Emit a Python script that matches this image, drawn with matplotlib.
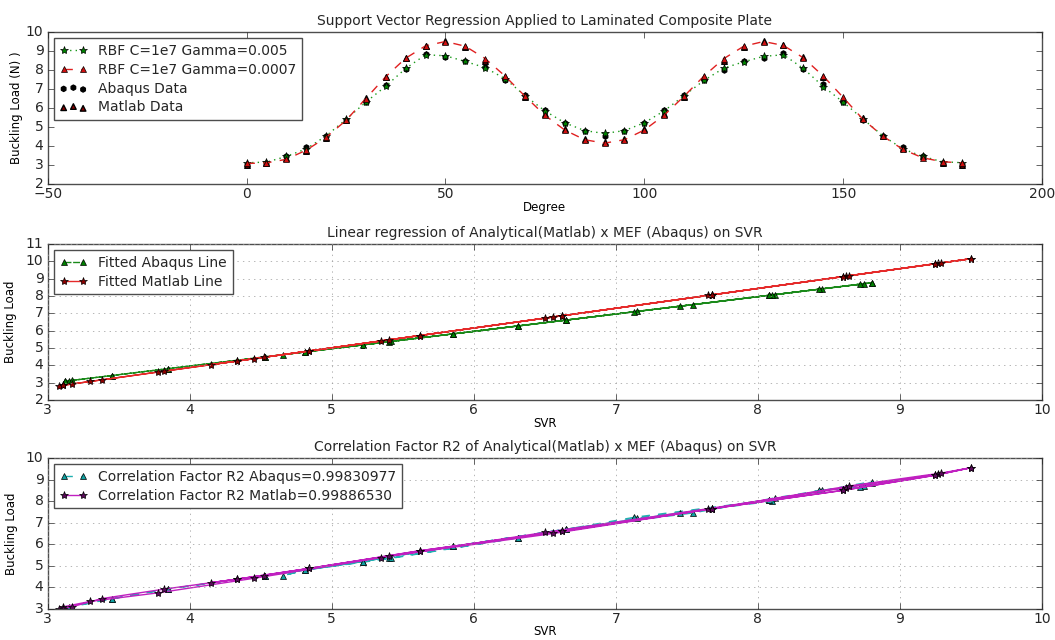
import matplotlib
matplotlib.use("Agg")
import matplotlib.pyplot as plt

# ---------------- data ----------------
degrees = [0, 5, 10, 15, 20, 25, 30, 35, 40, 45, 50, 55, 60, 65, 70, 75, 80, 85, 90,
           95, 100, 105, 110, 115, 120, 125, 130, 135, 140, 145, 150, 155, 160, 165, 170, 175, 180]

svr_abaqus = [3.12, 3.15, 3.45, 3.85, 4.53, 5.40, 6.31, 7.15, 8.08, 8.80, 8.75, 8.45, 8.12, 7.54, 6.65,
              5.85, 5.22, 4.81, 4.66, 4.81, 5.22, 5.85, 6.65, 7.45, 8.10, 8.43, 8.72, 8.80, 8.08,
              7.13, 6.31, 5.42, 4.53, 3.85, 3.45, 3.17, 3.12]

svr_matlab = [3.08, 3.11, 3.30, 3.78, 4.45, 5.35, 6.50, 7.65, 8.62, 9.27, 9.50, 9.25, 8.60, 7.68, 6.62,
              5.62, 4.84, 4.33, 4.15, 4.33, 4.84, 5.62, 6.62, 7.68, 8.60, 9.25, 9.50, 9.29, 8.64,
              7.68, 6.56, 5.40, 4.52, 3.82, 3.38, 3.17, 3.11]

abaqus_data = [3.02, 3.10, 3.47, 3.93, 4.55, 5.35, 6.30, 7.20, 8.05, 8.85, 8.70, 8.50, 8.15, 7.45, 6.70,
               5.90, 5.20, 4.80, 4.55, 4.80, 5.20, 5.90, 6.70, 7.45, 8.00, 8.50, 8.65, 8.90, 8.05,
               7.25, 6.30, 5.35, 4.55, 3.93, 3.47, 3.10, 3.02]

matlab_data = [3.02, 3.10, 3.35, 3.75, 4.42, 5.38, 6.55, 7.65, 8.62, 9.25, 9.55, 9.20, 8.50, 7.65, 6.60,
               5.70, 4.88, 4.38, 4.22, 4.38, 4.88, 5.70, 6.60, 7.65, 8.50, 9.20, 9.55, 9.30, 8.70,
               7.65, 6.50, 5.45, 4.55, 3.92, 3.48, 3.10, 3.02]

fit_abaqus = [3.08, 3.11, 3.41, 3.81, 4.49, 5.36, 6.27, 7.11, 8.04, 8.76, 8.71, 8.41, 8.08, 7.50, 6.61,
              5.81, 5.18, 4.77, 4.62, 4.77, 5.18, 5.81, 6.61, 7.41, 8.06, 8.39, 8.68, 8.76, 8.04,
              7.09, 6.27, 5.38, 4.49, 3.81, 3.41, 3.13, 3.08]

fit_matlab = [2.82, 2.85, 3.07, 3.62, 4.38, 5.41, 6.72, 8.03, 9.14, 9.88, 10.15, 9.86, 9.12, 8.07, 6.86,
              5.72, 4.83, 4.24, 4.04, 4.24, 4.83, 5.72, 6.86, 8.07, 9.12, 9.86, 10.15, 9.91, 9.17,
              8.07, 6.79, 5.47, 4.46, 3.66, 3.16, 2.92, 2.85]

r2_abaqus = 0.99830977
r2_matlab = 0.99886530

titles = ["Support Vector Regression Applied to Laminated Composite Plate",
          "Linear regression of Analytical(Matlab) x MEF (Abaqus) on SVR",
          "Correlation Factor R2 of Analytical(Matlab) x MEF (Abaqus) on SVR"]

# ---------------- style ----------------
plt.style.use("classic")
plt.rcParams.update({
    "figure.facecolor": "white",
    "savefig.facecolor": "white",
    "font.family": ["DejaVu Sans"],
    "font.size": 10,
    "axes.linewidth": 1.0,
    "axes.edgecolor": "0.3",
    "xtick.labelsize": 10,
    "ytick.labelsize": 10,
    "xtick.major.pad": 2.5,
    "ytick.major.pad": 3,
    "axes.titlesize": 10,
    "axes.labelsize": 8.5,
    "legend.fontsize": 10,
    "grid.color": "0.6",
    "text.color": "0.15",
    "xtick.color": "0.15",
    "ytick.color": "0.15",
})

fig = plt.figure(figsize=(10.55, 6.4), dpi=100)
L, W = 0.0452, 0.9425
ax1 = fig.add_axes([L, 0.7125, W, 0.2375])
ax2 = fig.add_axes([L, 0.375, W, 0.2438])
ax3 = fig.add_axes([L, 0.0485, W, 0.2359])

MS = 5

# ---- top ----
ax1.plot(degrees, svr_abaqus, ":", color="#1a9a1a", marker="*", markeredgecolor="k",
         markerfacecolor="g", markersize=MS + 1, label="RBF C=1e7 Gamma=0.005")
ax1.plot(degrees, svr_matlab, "--", color="#e02020", marker="^", markeredgecolor="k",
         markerfacecolor="#d01010", markersize=MS, label="RBF C=1e7 Gamma=0.0007")
ax1.scatter(degrees, abaqus_data, c="k", marker="h", s=14, edgecolors="k", label="Abaqus Data")
ax1.scatter(degrees, matlab_data, c="#8b0000", marker="^", s=16, edgecolors="k", label="Matlab Data")
ax1.set_xlim(-50, 200)
ax1.set_ylim(2, 10)
ax1.set_yticks(range(2, 11))
ax1.set_title(titles[0], pad=5)
ax1.set_xlabel("Degree", labelpad=0)
ax1.set_ylabel("Buckling Load (N) )", labelpad=2)
ax1.legend(loc="upper left", numpoints=2, scatterpoints=3, handlelength=2.0,
           borderaxespad=0.45, labelspacing=0.35, handletextpad=0.8, frameon=True)

# ---- middle ----
ax2.plot(svr_abaqus, fit_abaqus, "--", dashes=(5, 1.2), color="#1a8a1a", marker="^",
         markeredgecolor="k", markerfacecolor="g", markersize=MS, label="Fitted Abaqus Line")
ax2.plot(svr_matlab, fit_matlab, "-", color="#e52a2a", marker="*", markerfacecolor="#8b0000",
         markeredgecolor="k", markersize=MS + 1, label="Fitted Matlab Line")
ax2.set_xlim(3, 10)
ax2.set_ylim(2, 11)
ax2.set_yticks(range(2, 12))
ax2.grid(True)
ax2.set_title(titles[1], pad=5)
ax2.set_xlabel("SVR", labelpad=0)
ax2.set_ylabel("Buckling Load", labelpad=6)
ax2.legend(loc="upper left", numpoints=2, handlelength=2.0,
           borderaxespad=0.45, labelspacing=0.35, handletextpad=0.8)

# ---- bottom ----
ax3.plot(svr_abaqus, abaqus_data, "--", color="#20b0b0", marker="^", markeredgecolor="k",
         markerfacecolor="#10a0a0", markersize=MS, label="Correlation Factor R2 Abaqus=%.8f" % r2_abaqus)
ax3.plot(svr_matlab, matlab_data, "-", color="#c020c0", marker="*", markerfacecolor="#5a0a5a",
         markeredgecolor="k", markersize=MS + 1, label="Correlation Factor R2 Matlab=%.8f" % r2_matlab)
ax3.set_xlim(3, 10)
ax3.set_ylim(3, 10)
ax3.set_yticks(range(3, 11))
ax3.grid(True)
ax3.set_title(titles[2], pad=5)
ax3.set_xlabel("SVR", labelpad=-1)
ax3.set_ylabel("Buckling Load", labelpad=6)
ax3.legend(loc="upper left", numpoints=2, handlelength=2.0,
           borderaxespad=0.45, labelspacing=0.35, handletextpad=0.8)

fig.savefig("out.png", dpi=100)
